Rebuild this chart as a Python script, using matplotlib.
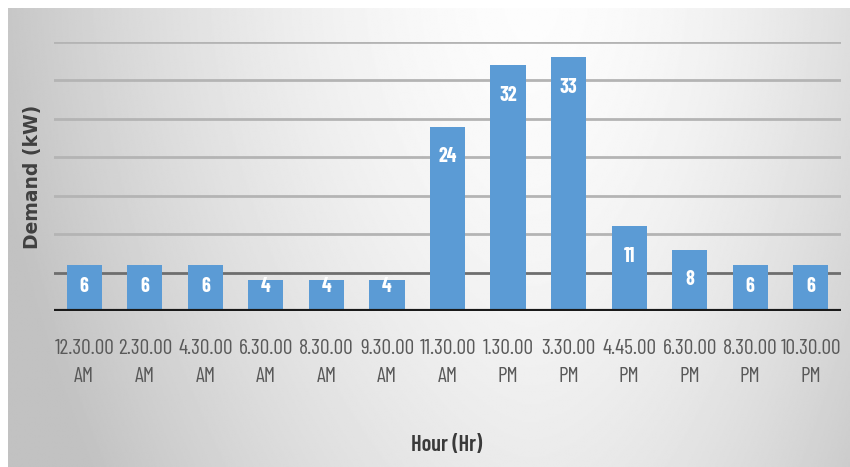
import numpy as np
import matplotlib
matplotlib.use("Agg")
import matplotlib.pyplot as plt

hours = ["12.30.00\nAM", "2.30.00\nAM", "4.30.00\nAM", "6.30.00\nAM", "8.30.00\nAM",
         "9.30.00\nAM", "11.30.00\nAM", "1.30.00\nPM", "3.30.00\nPM", "4.45.00\nPM",
         "6.30.00\nPM", "8.30.00\nPM", "10.30.00\nPM"]
demand = [6, 6, 6, 4, 4, 4, 24, 32, 33, 11, 8, 6, 6]
grid_levels = [5, 10, 15, 20, 25, 30, 35]

cond = ['Barlow Condensed', 'DejaVu Sans']

W, H = 850, 467
fig = plt.figure(figsize=(W / 100, H / 100), dpi=100)
fig.patch.set_facecolor('white')

# background gradient frame
bg = fig.add_axes([8 / W, 0, (W - 8) / W, (H - 8) / H])
bg.set_axis_off()
yy, xx = np.mgrid[0:1:300j, 0:1:600j]
val = 0.99 - 0.21 * np.clip((0.62 - xx) / 0.62, 0, None) ** 1.6 \
      - 0.12 * np.clip((xx - 0.62) / 0.38, 0, None) ** 1.8 \
      - 0.07 * yy ** 1.5
val = np.clip(val, 0.76, 1)
bg.imshow(val, cmap='gray', vmin=0, vmax=1, aspect='auto',
          extent=[0, 1, 0, 1], origin='upper', interpolation='bilinear')
bg.set_zorder(0)

ax = fig.add_axes([54 / W, 156 / H, (841 - 54) / W, (311 - 42) / H])
ax.set_zorder(1)
ax.patch.set_alpha(0)

x = np.arange(len(hours))
ax.set_xlim(-0.5, len(hours) - 0.5)
ax.set_ylim(0, 35)

for g in grid_levels:
    col = '#6e6e6e' if g == 5 else '#b4b4b4'
    ax.axhline(g, color=col, lw=2.0, zorder=1)
ax.axhline(0, color='#1a1a1a', lw=3.0, zorder=3)

ax.bar(x, demand, width=0.58, color='#5b9bd5', zorder=2)

for xi, v in zip(x, demand):
    ax.text(xi, max(v - 3.9, 3.2), str(v), ha='center', va='center',
            color='white', fontweight='bold', fontsize=14.5, family=cond, zorder=4)

for s in ax.spines.values():
    s.set_visible(False)
ax.set_yticks([])
ax.set_xticks(x)
ax.set_xticklabels(hours, fontsize=15.5, color='#595959', family=cond, linespacing=1.6)
ax.tick_params(axis='x', length=0, pad=20)

ax.set_ylabel('Demand (kW)', fontsize=13.5, fontweight='bold', color='#404040')
ax.yaxis.set_label_coords(-(54 - 42) / (841 - 54), 0.5)
fig.text(447 / W, 1 - 445 / H, 'Hour (Hr)', ha='center', va='center',
         fontsize=16, fontweight='semibold', color='#3a3a3a', family=cond)

fig.savefig('out.png', dpi=100)
